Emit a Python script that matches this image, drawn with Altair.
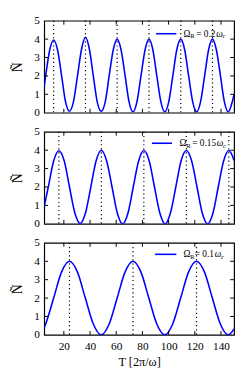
import altair as alt
import pandas as pd

# ---- data ----
x_ticks = [20, 40, 60, 80, 100, 120, 140]
y_labels = [0, 1, 2, 3, 4, 5]
y_ticks_inner = [1, 2, 3, 4]

t_top = [5.0, 6.1, 9.2, 12.2, 15.2, 18.3, 21.3, 24.3, 27.3, 30.4, 33.5, 36.5, 39.5, 42.5, 45.5, 48.5,
         51.6, 54.6, 57.7, 60.7, 63.7, 66.8, 69.8, 72.8, 75.8, 78.9, 82.0, 85.0, 88.0, 91.0, 94.1, 97.1,
         100.1, 103.2, 106.2, 109.3, 112.3, 115.3, 118.4, 121.4, 124.4, 127.5, 130.5, 133.5, 136.5,
         139.6, 142.6, 145.6, 148.6, 150.0]
n_top = [1.43, 2.0, 3.41, 3.95, 3.41, 2.0, 0.59, 0.08, 0.59, 2.0, 3.45, 4.1, 3.45, 2.0, 0.59, 0.08,
         0.59, 2.0, 3.41, 4.0, 3.41, 2.0, 0.59, 0.05, 0.59, 2.0, 3.41, 4.0, 3.41, 2.0, 0.59, 0.05,
         0.59, 2.0, 3.41, 4.0, 3.41, 2.0, 0.59, 0.05, 0.59, 2.0, 3.41, 4.0, 3.41,
         2.0, 0.59, 0.05, 0.59, 1.0]
peaks_top = [12.2, 36.5, 60.7, 85.0, 109.3, 133.5]

t_mid = [5.0, 8.1, 12.2, 16.2, 20.3, 24.3, 28.4, 32.45, 36.5, 40.6, 44.6, 48.65, 52.7, 56.8, 60.8,
         64.9, 69.0, 73.0, 77.1, 81.1, 85.2, 89.2, 93.3, 97.35, 101.4, 105.5, 109.5, 113.55, 117.6,
         121.7, 125.7, 129.8, 133.9, 137.9, 142.0, 146.0, 150.0]
n_mid = [0.95, 2.0, 3.41, 3.97, 3.41, 2.0, 0.59, 0.02, 0.59, 2.0, 3.41, 4.0, 3.41, 2.0, 0.59,
         0.0, 0.59, 2.0, 3.41, 3.98, 3.41, 2.0, 0.59, 0.0, 0.59, 2.0, 3.41, 3.98, 3.41,
         2.0, 0.59, 0.0, 0.59, 2.0, 3.41, 3.98, 3.44]
peaks_mid = [16.2, 48.65, 81.1, 113.55, 146.0]

t_bot = [5.0, 6.1, 12.2, 18.2, 24.3, 30.4, 36.4, 42.5, 48.55, 54.6, 60.7, 66.7, 72.8, 78.9, 84.9,
         91.0, 97.05, 103.1, 109.2, 115.2, 121.3, 127.4, 133.4, 139.5, 145.55, 150.0]
n_bot = [0.40, 0.59, 2.0, 3.41, 4.0, 3.41, 2.0, 0.59, 0.0, 0.59, 2.0, 3.41, 4.0, 3.41, 2.0,
         0.59, 0.0, 0.59, 2.0, 3.41, 4.0, 3.41, 2.0, 0.59, 0.0, 0.33]
peaks_bot = [24.3, 72.8, 121.3]

labels = ["0.2", "0.15", "0.1"]

W, H = 194, 94
FONT = "Liberation Serif"
xs = alt.Scale(domain=[5, 150], nice=False, zero=False)
ys = alt.Scale(domain=[0, 5], nice=False)

YAXIS = alt.Axis(values=y_labels, ticks=False, domain=False, grid=False, labelFont=FONT,
                 labelFontSize=11.5, labelOverlap=False, labelFlush=False, labelColor="black",
                 labelPadding=5, title="Ñ", titleFont=FONT, titleFontSize=14,
                 titleFontWeight="normal", titleColor="black", titlePadding=9)
XAXIS_LAB = alt.Axis(values=x_ticks, ticks=False, domain=False, grid=False, labelFont=FONT,
                     labelFontSize=11.5, labelColor="black", labelPadding=6, labelOverlap=False,
                     labelFlush=False, title="T [2π/ω]", titleFont=FONT, titleFontSize=12.5,
                     titleFontWeight="normal", titleColor="black", titlePadding=4)
XAXIS_NOLAB = alt.Axis(values=x_ticks, labels=False, ticks=False, domain=False, grid=False, title=None)


def panel(t, n, peaks, lab, show_x, leg_line, leg_text_x, leg_y):
    xaxis = XAXIS_LAB if show_x else XAXIS_NOLAB
    X = lambda f: alt.X(f, scale=xs, axis=xaxis)
    Y = lambda f: alt.Y(f, scale=ys, axis=YAXIS)
    df = pd.DataFrame({"t": t, "N": n})
    line = alt.Chart(df).mark_line(color="#0000ff", strokeWidth=1.6, interpolate="monotone",
                                   clip=True).encode(x=X("t:Q"), y=Y("N:Q"))
    pk = alt.Chart(pd.DataFrame({"p": peaks})).mark_rule(
        color="black", strokeDash=[1.2, 3], strokeWidth=1.2
    ).encode(x=X("p:Q"), y=alt.value(0), y2=alt.value(H))
    xt = pd.DataFrame({"v": x_ticks})
    xtb = alt.Chart(xt).mark_rule(color="black", strokeWidth=1).encode(
        x=X("v:Q"), y=alt.value(H), y2=alt.value(H - 4))
    xtt = alt.Chart(xt).mark_rule(color="black", strokeWidth=1).encode(
        x=X("v:Q"), y=alt.value(0), y2=alt.value(4))
    yt = pd.DataFrame({"v": y_ticks_inner})
    ytl = alt.Chart(yt).mark_rule(color="black", strokeWidth=1).encode(
        y=Y("v:Q"), x=alt.value(0), x2=alt.value(4))
    ytr = alt.Chart(yt).mark_rule(color="black", strokeWidth=1).encode(
        y=Y("v:Q"), x=alt.value(W - 4), x2=alt.value(W))
    leg = alt.Chart(pd.DataFrame({"a": [0]})).mark_rule(color="#0000ff", strokeWidth=1.6).encode(
        x=alt.value(leg_line[0]), x2=alt.value(leg_line[1]), y=alt.value(leg_y))
    parts = [("Ω", 0, 0, 9.5, "normal"), ("R", 7, 2.5, 6.5, "normal"),
             ("= " + lab, 13 if lab != "0.1" else 11.5, 0, 9.5, "normal")]
    eq_w = {"0.2": 20.5, "0.15": 25, "0.1": 20.5}[lab]
    base = parts[2][1]
    parts += [("ω", base + eq_w, 0, 9.5, "italic"), ("c", base + eq_w + 6.3, 2.5, 6.5, "italic")]
    texts = []
    for s, dx, dy, sz, st in parts:
        texts.append(alt.Chart(pd.DataFrame({"a": [0]})).mark_text(
            text=s, font=FONT, fontSize=sz, fontStyle=st, align="left", baseline="middle", color="black"
        ).encode(x=alt.value(leg_text_x + dx), y=alt.value(leg_y + dy)))
    return alt.layer(line, pk, xtb, xtt, ytl, ytr, leg, *texts).properties(width=W, height=H)


p1 = panel(t_top, n_top, peaks_top, "0.2", False, (114.3, 135), 142.3, 13.3)
p2 = panel(t_mid, n_mid, peaks_mid, "0.15", False, (110, 130.6), 138.3, 11.7)
p3 = panel(t_bot, n_bot, peaks_bot, "0.1", True, (113.3, 135), 142.3, 11.7)

chart = alt.vconcat(p1, p2, p3, spacing=19.5, bounds="flush").properties(
    padding={"left": 2, "top": 2, "right": 2, "bottom": 2}
).configure(background="white", view=alt.ViewConfig(stroke="black", strokeWidth=1.2))

chart.save("out.html", embed_options={"renderer": "svg", "actions": False})
